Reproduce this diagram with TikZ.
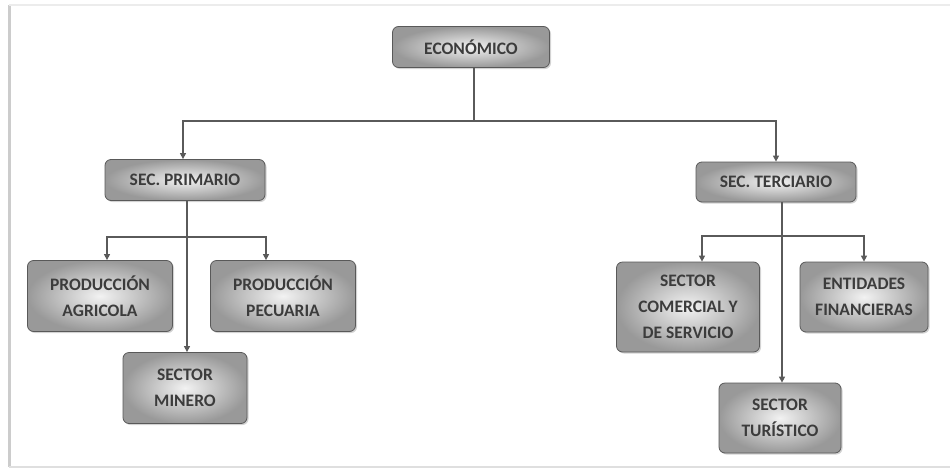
\documentclass[tikz,border=0pt]{standalone}
\usepackage{fontspec}
\setmainfont{Carlito}
\usetikzlibrary{shadows,arrows.meta}
\definecolor{txt}{HTML}{3C3C3C}
\definecolor{ln}{HTML}{5A5A5A}
\tikzset{
  box/.style={draw=gray!70!black, line width=0.8pt, rounded corners=6pt,
    inner color=gray!10, outer color=gray!80, align=center,
    font=\fontsize{17.5}{26}\selectfont\bfseries, text=txt,
    drop shadow={shadow xshift=1.5pt, shadow yshift=-1.5pt, opacity=0.35}},
  conn/.style={draw=ln, line width=1.3pt},
  arr/.style={conn, -{Triangle[length=6pt,width=6pt]}}
}
\begin{document}
\begin{tikzpicture}[x=1pt,y=-1pt]
\useasboundingbox (0,0) rectangle (950,469);
% frame
\draw[gray!40, line width=3pt] (9,5) -- (9,467);
\draw[gray!15, line width=2pt] (9,5) -- (950,5);
\draw[gray!25, line width=1.5pt] (9,467) -- (950,467);

\node[box, minimum width=157pt, minimum height=41pt] (eco) at (471,47) {ECONÓMICO};
\node[box, minimum width=160pt, minimum height=41pt] (prim) at (185,180) {SEC. PRIMARIO};
\node[box, minimum width=160pt, minimum height=40pt] (terc) at (776,182) {SEC. TERCIARIO};
\node[box, minimum width=145pt, minimum height=71pt] (agr) at (100,296) {PRODUCCIÓN\\AGRICOLA};
\node[box, minimum width=145pt, minimum height=71pt] (pec) at (283,296) {PRODUCCIÓN\\PECUARIA};
\node[box, minimum width=124pt, minimum height=71pt] (min) at (185,388) {SECTOR\\MINERO};
\node[box, minimum width=143pt, minimum height=90pt, inner sep=2pt] (com) at (688,307) {SECTOR\\COMERCIAL Y\\DE SERVICIO};
\node[box, minimum width=128pt, minimum height=70pt, inner sep=2pt] (ent) at (864,297) {ENTIDADES\\FINANCIERAS};
\node[box, minimum width=122pt, minimum height=70pt] (tur) at (780,418) {SECTOR\\TURÍSTICO};

\coordinate (j1) at (474,121);
\coordinate (j2) at (187,237);
\coordinate (j3) at (782,236);

\draw[conn] ([xshift=3pt]eco.south) -- (j1);
\draw[arr] (j1) -| ([xshift=-2pt]prim.north);
\draw[arr] (j1) -| (terc.north);

\draw[arr] (j2 |- prim.south) -- (j2 |- min.north);
\draw[arr] (j2) -| ([xshift=7pt]agr.north);
\draw[arr] (j2) -| ([xshift=-17pt]pec.north);

\draw[arr] (j3 |- terc.south) -- (j3 |- tur.north);
\draw[arr] (j3) -| ([xshift=14pt]com.north);
\draw[arr] (j3) -| (ent.north);
\end{tikzpicture}
\end{document}
